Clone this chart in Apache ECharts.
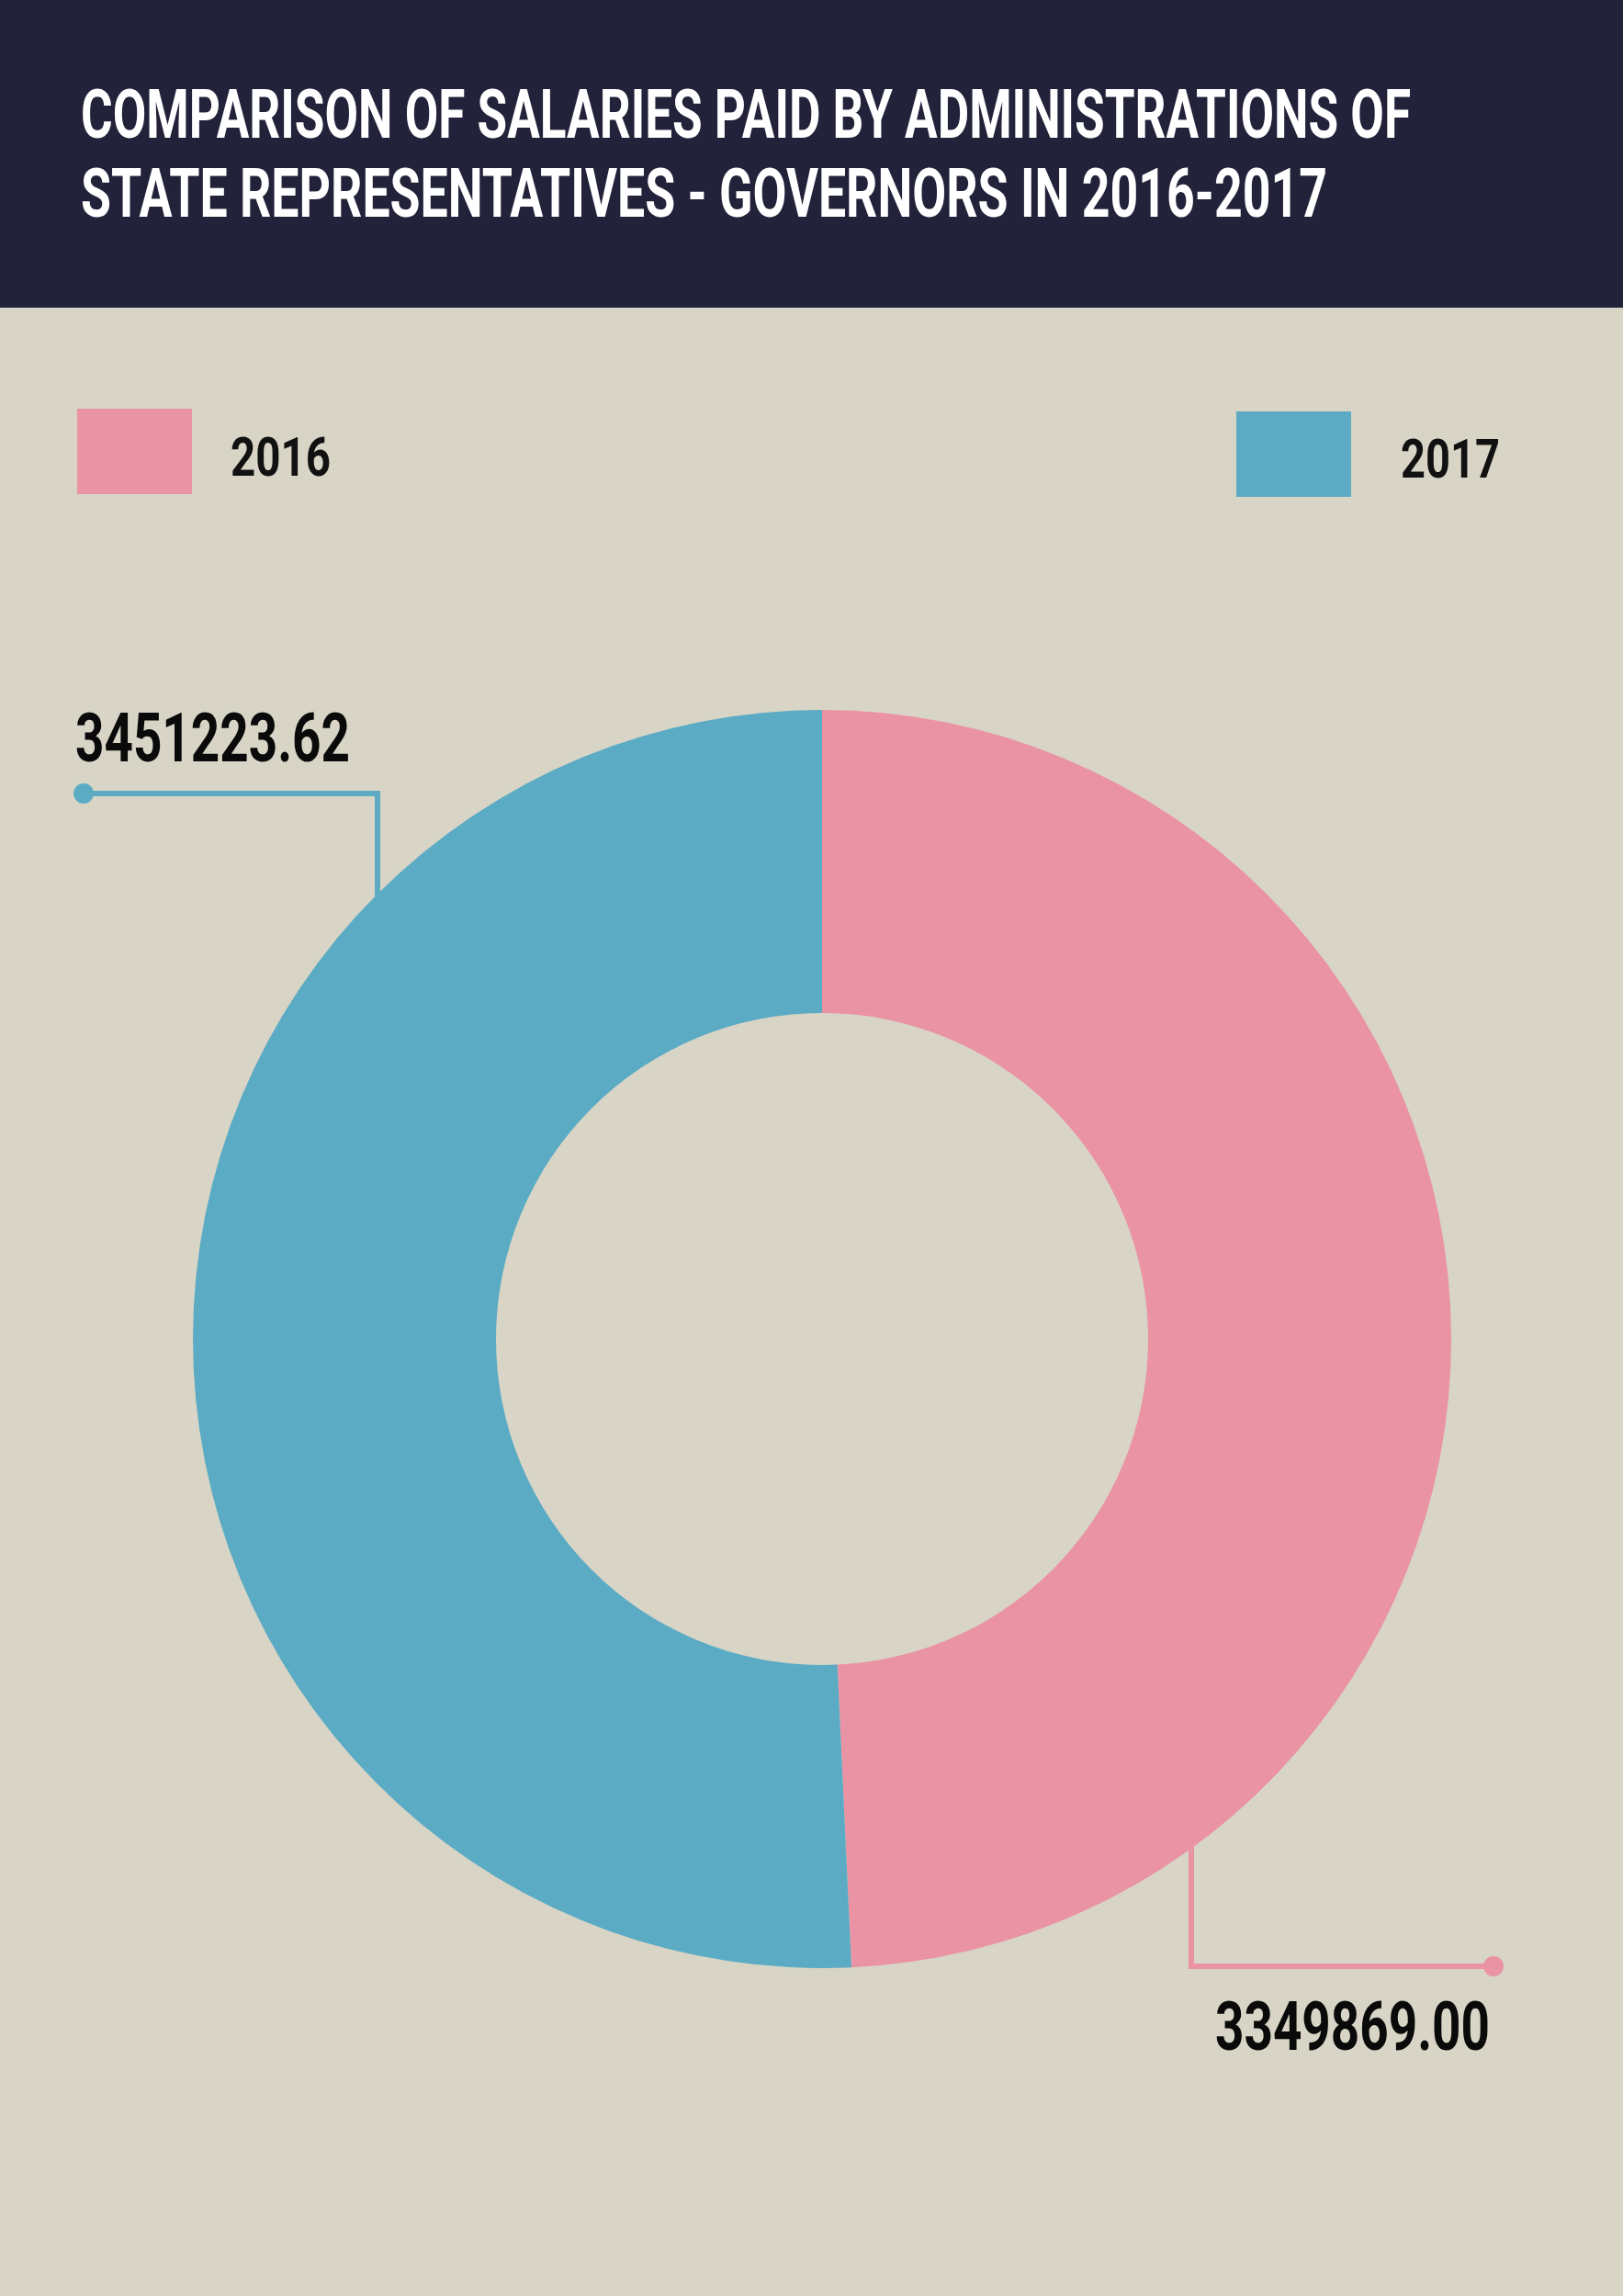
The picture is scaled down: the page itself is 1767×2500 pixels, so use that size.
<!DOCTYPE html>
<html>
<head>
<meta charset="utf-8">
<script src="https://cdn.jsdelivr.net/npm/echarts@6/dist/echarts.min.js"></script>
<style>
html,body{margin:0;padding:0;background:#D8D5C6;}
#chart{width:1767px;height:2500px;}
</style>
</head>
<body>
<div id="chart"></div>
<script>
// ---- data ----
const titleLines = [
  'COMPARISON OF SALARIES PAID BY ADMINISTRATIONS OF',
  'STATE REPRESENTATIVES - GOVERNORS IN 2016-2017'
];
const years = ['2016', '2017'];
const salaries = [3349869.00, 3451223.62];
const colors = ['#EA93A4', '#5CABC4'];

// ---- layout / style ----
const BG = '#D8D5C6';
const HEADER = '#22223A';
const FONT = 'Roboto, "Noto Sans", "DejaVu Sans", sans-serif';
const CX = 895, CY = 1458, R_IN = 355, R_OUT = 685;

const mctx = document.createElement('canvas').getContext('2d');
function fitText(str, left, midY, targetW, size, color) {
  mctx.font = 'bold ' + size + 'px ' + FONT;
  const w = mctx.measureText(str).width || targetW;
  return {
    type: 'text', x: left, y: midY, scaleX: targetW / w, z: 20,
    style: {
      text: str, x: 0, y: 0, fill: color,
      fontSize: size, fontWeight: 'bold', fontFamily: FONT,
      align: 'left', verticalAlign: 'middle',
      textAlign: 'left', textVerticalAlign: 'middle'
    }
  };
}
function ringY(dx, sign) {
  return CY + sign * Math.sqrt(R_OUT * R_OUT - dx * dx);
}

const graphics = [];
// header band
graphics.push({ type: 'rect', shape: { x: 0, y: 0, width: 1767, height: 335 }, style: { fill: HEADER }, z: 1 });
graphics.push(fitText(titleLines[0], 88, 131, 1448, 74, '#FFFFFF'));
graphics.push(fitText(titleLines[1], 88, 217, 1357, 74, '#FFFFFF'));

// legend
const legendPos = [
  { sx: 84, sy: 445, tx: 251, tw: 109, ty: 503 },
  { sx: 1346, sy: 448, tx: 1525, tw: 108, ty: 505 }
];
years.forEach((y, i) => {
  const p = legendPos[i];
  graphics.push({ type: 'rect', shape: { x: p.sx, y: p.sy, width: 125, height: 93 }, style: { fill: colors[i] }, z: 10 });
  graphics.push(fitText(y, p.tx, p.ty, p.tw, 60, '#111111'));
});

// leader lines + value labels
// 2017 (blue) upper left
{
  const dx = -484;
  const x = CX + dx, yRing = ringY(dx, -1) + 2;
  graphics.push({ type: 'polyline', shape: { points: [[91, 864], [x, 864], [x, yRing]] }, style: { stroke: colors[1], lineWidth: 6, fill: null }, z: 5 });
  graphics.push({ type: 'circle', shape: { cx: 91, cy: 864, r: 11 }, style: { fill: colors[1] }, z: 6 });
  graphics.push(fitText(salaries[1].toFixed(2), 82, 810, 299, 74, '#0A0A0A'));
}
// 2016 (pink) lower right
{
  const dx = 402;
  const x = CX + dx, yRing = ringY(dx, 1) - 2;
  graphics.push({ type: 'polyline', shape: { points: [[x, yRing], [x, 2141], [1626, 2141]] }, style: { stroke: colors[0], lineWidth: 6, fill: null }, z: 5 });
  graphics.push({ type: 'circle', shape: { cx: 1626, cy: 2141, r: 11 }, style: { fill: colors[0] }, z: 6 });
  graphics.push(fitText(salaries[0].toFixed(2), 1323, 2213, 299, 74, '#0A0A0A'));
}

const chart = echarts.init(document.getElementById('chart'), null, { renderer: 'canvas' });
chart.setOption({
  backgroundColor: BG,
  animation: false,
  color: colors,
  graphic: { elements: graphics },
  series: [{
    type: 'pie',
    center: [CX, CY],
    radius: [R_IN, R_OUT],
    startAngle: 90,
    clockwise: true,
    label: { show: false },
    labelLine: { show: false },
    emphasis: { scale: false },
    itemStyle: { borderWidth: 0 },
    data: years.map((y, i) => ({ name: y, value: salaries[i], itemStyle: { color: colors[i] } })),
    z: 3
  }]
});
</script>
</body>
</html>
